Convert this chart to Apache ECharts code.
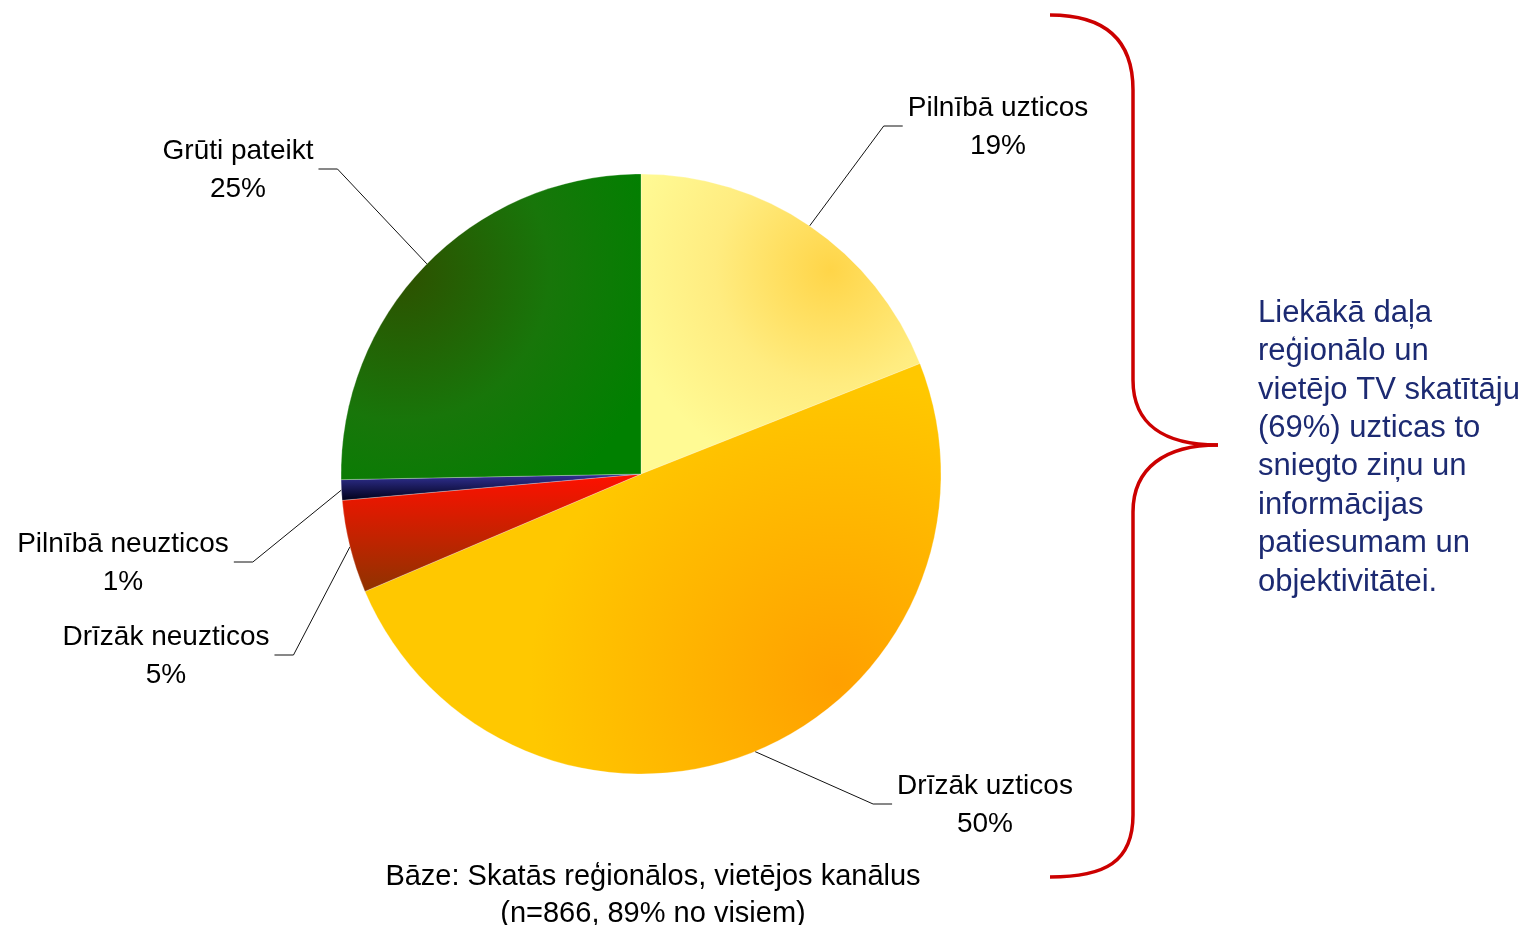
<!DOCTYPE html>
<html>
<head>
<meta charset="utf-8">
<script src="https://cdn.jsdelivr.net/npm/echarts@6/dist/echarts.min.js"></script>
<style>
    html, body { margin: 0; background: #fff; }
    #chart { width: 1532px; height: 925px; }
</style>
</head>
<body>
<div id="chart"></div>
<script>
// data
const categories = ["Pilnībā uzticos", "Drīzāk uzticos", "Drīzāk neuzticos", "Pilnībā neuzticos", "Grūti pateikt"];
const shares = [19.0, 49.6, 5.0, 1.1, 25.3];
const noteLines = ["Liekākā daļa", "reģionālo un", "vietējo TV skatītāju", "(69%) uzticas to", "sniegto ziņu un", "informācijas", "patiesumam un", "objektivitātei."];
const baseLines = ["Bāze: Skatās reģionālos, vietējos kanālus", "(n=866, 89% no visiem)"];

const FONT = "'Liberation Sans', Arial, sans-serif";

// slice fills (Excel-like shaded gradients)
const fills = [
    new echarts.graphic.RadialGradient(0.68, 0.32, 0.75, [{offset: 0, color: "#FFD548"}, {offset: 0.55, color: "#FFEC80"}, {offset: 1, color: "#FFFA94"}]),
    new echarts.graphic.RadialGradient(0.82, 0.78, 0.75, [{offset: 0, color: "#FFA000"}, {offset: 0.5, color: "#FFB400"}, {offset: 1, color: "#FFC800"}]),
    new echarts.graphic.LinearGradient(0, 0, 0, 1, [{offset: 0, color: "#FF1000"}, {offset: 1, color: "#8E3300"}]),
    new echarts.graphic.LinearGradient(0, 0, 0, 1, [{offset: 0, color: "#333399"}, {offset: 1, color: "#000018"}]),
    new echarts.graphic.RadialGradient(0.2, 0.32, 0.9, [{offset: 0, color: "#2E5000"}, {offset: 0.55, color: "#18760A"}, {offset: 1, color: "#008000"}]),
];

// where each label block sits (centre) and which side the leader comes from
const labelSpots = [
    {x: 998, y: 124, side: "left"},
    {x: 985, y: 802, side: "left"},
    {x: 166, y: 653, side: "right"},
    {x: 123, y: 560, side: "right"},
    {x: 238, y: 167, side: "right"},
];

// curly brace on the right
const braceStyle = {stroke: "#CC0000", lineWidth: 3.5, fill: "none"};
const brace = [
    {type: "bezierCurve", shape: {x1: 1050, y1: 15, cpx1: 1105, cpy1: 15, cpx2: 1133, cpy2: 40, x2: 1133, y2: 90}, style: braceStyle},
    {type: "line", shape: {x1: 1133, y1: 90, x2: 1133, y2: 380}, style: braceStyle},
    {type: "bezierCurve", shape: {x1: 1133, y1: 380, cpx1: 1133, cpy1: 425, cpx2: 1165, cpy2: 445, x2: 1218, y2: 445}, style: braceStyle},
    {type: "bezierCurve", shape: {x1: 1218, y1: 445, cpx1: 1165, cpy1: 445, cpx2: 1133, cpy2: 468, x2: 1133, y2: 512}, style: braceStyle},
    {type: "line", shape: {x1: 1133, y1: 512, x2: 1133, y2: 815}, style: braceStyle},
    {type: "bezierCurve", shape: {x1: 1133, y1: 815, cpx1: 1133, cpy1: 862, cpx2: 1105, cpy2: 877, x2: 1050, y2: 877}, style: braceStyle},
];

let chart = echarts.init(document.getElementById("chart"));

let options = {
    animation: false,
    series: [
        {
            type: "pie",
            center: [641, 474],
            radius: 300,
            startAngle: 90,
            clockwise: true,
            avoidLabelOverlap: false,
            itemStyle: {
                borderColor: "rgba(255,255,255,0.45)",
                borderWidth: 0.6,
            },
            label: {
                show: true,
                color: "#000",
                fontFamily: FONT,
                fontSize: 28,
                lineHeight: 38,
                align: "center",
                formatter: p => `${p.name}\n${Math.round(p.percent)}%`,
            },
            labelLine: {
                show: true,
                lineStyle: {color: "#111", width: 1},
            },
            labelLayout: params => {
                let spot = labelSpots[params.dataIndex];
                let start = params.labelLinePoints[0];
                let half = params.labelRect.width / 2;
                let endX = spot.side === "left" ? spot.x - half - 5 : spot.x + half + 5;
                let bendX = spot.side === "left" ? endX - 19 : endX + 19;
                let lineY = spot.y + 2;
                return {
                    x: spot.x,
                    y: spot.y + 3,
                    align: "center",
                    verticalAlign: "middle",
                    labelLinePoints: [start, [bendX, lineY], [endX, lineY]],
                };
            },
            data: categories.map((name, i) => ({
                name: name,
                value: shares[i],
                itemStyle: {color: fills[i]},
            })),
        },
    ],
    graphic: [
        {type: "group", children: brace},
        {
            type: "text",
            x: 1258,
            y: 294,
            style: {
                text: noteLines.join("\n"),
                fill: "#1C2A72",
                font: `31px ${FONT}`,
                lineHeight: 38.4,
            },
        },
        {
            type: "text",
            x: 653,
            y: 858,
            style: {
                text: baseLines.join("\n"),
                fill: "#000",
                font: `29px ${FONT}`,
                lineHeight: 37,
                align: "center",
            },
        },
    ],
};

chart.setOption(options);
</script>
</body>
</html>
